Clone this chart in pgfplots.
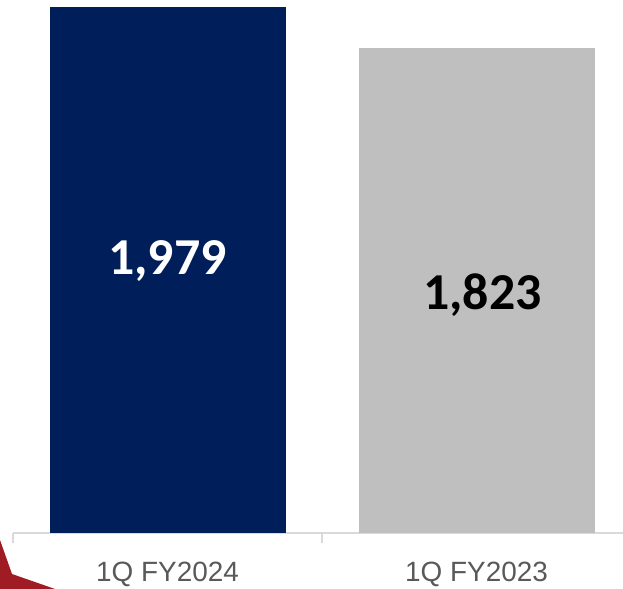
\documentclass[border=0pt]{standalone}
\usepackage{pgfplots}
\pgfplotsset{compat=1.18}
\usepackage{fontspec}
\setmainfont{Carlito}
\newfontfamily\arialf{Liberation Sans}
\definecolor{navy}{HTML}{001E5A}
\definecolor{lgray}{HTML}{BFBFBF}
\definecolor{axgray}{HTML}{D9D9D9}
\definecolor{txtgray}{HTML}{595959}
\definecolor{dred}{HTML}{A01C24}
\begin{document}
\begin{tikzpicture}[x=1bp,y=1bp]
\fill[dred] (0,49) -- (12,15) -- (55,0) -- (0,0) -- cycle;
\begin{axis}[
  at={(13bp,56bp)}, anchor=south west,
  scale only axis, width=618bp, height=533bp,
  xmin=0, xmax=2, ymin=0, ymax=2005.3,
  axis y line=none,
  axis x line*=bottom,
  x axis line style={axgray, line width=1.5bp, -},
  xtick={0.5,1.5},
  xticklabels={1Q FY2024,1Q FY2023},
  major tick length=0pt,
  minor xtick={0,1,2},
  minor tick length=10bp,
  tick align=outside,
  minor tick style={axgray, line width=1.5bp},
  xticklabel style={font=\arialf\fontsize{28}{28}\selectfont, text=txtgray, anchor=base, yshift=-48bp},
  ybar, bar width=236bp, bar shift=0pt,
  clip=false,
]
\addplot[fill=navy, draw=none] coordinates {(0.5,1979)};
\addplot[fill=lgray, draw=none] coordinates {(1.5,1823)};
\node[anchor=base, inner sep=0, text=white, font=\bfseries\fontsize{52}{52}\selectfont] at (axis cs:0.5,971) {1,979};
\node[anchor=base, inner sep=0, text=black, font=\bfseries\fontsize{52}{52}\selectfont, xshift=6bp] at (axis cs:1.5,839) {1,823};
\end{axis}
\pgfresetboundingbox
\useasboundingbox (0,0) rectangle (623,589);
\end{tikzpicture}
\end{document}
